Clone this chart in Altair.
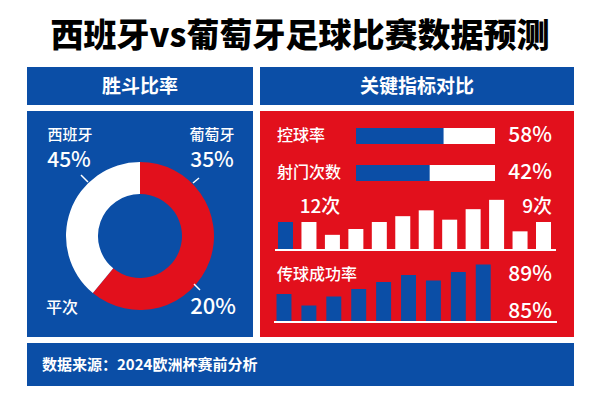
import altair as alt
import pandas as pd

FONT = "Noto Sans CJK SC"
BLUE = "#0b4ea6"
RED = "#e2101c"
WHITE = "#ffffff"

# ---- data ----
title_text = "西班牙vs葡萄牙足球比赛数据预测"
left_header = "胜斗比率"
right_header = "关键指标对比"
footer_text = "数据来源：2024欧洲杯赛前分析"

ring_parts = ["葡萄牙/平次", "西班牙"]
ring_share = [61, 39]
ring_labels = ["西班牙", "45%", "葡萄牙", "35%", "平次", "20%"]

metrics = ["控球率", "射门次数"]
metric_bar = [63, 53]
metric_label = ["58%", "42%"]

shot_idx = list(range(1, 13))
shot_vals = [12, 12, 6.5, 9, 12, 14.5, 17, 13, 17.5, 21.5, 8, 12]
shot_team = ["西班牙"] + ["其他"] * 11
shot_labels = ["12次", "9次"]

pass_idx = list(range(1, 10))
pass_vals = [28, 16.5, 25.5, 33, 40, 47, 41.5, 50, 57.5]
pass_title = "传球成功率"
pass_labels = ["89%", "85%"]

one = pd.DataFrame({"k": [0]})
LW = 500


def rect(x0, x1, y0, y1, color):
    return alt.Chart(one).mark_rect(color=color).encode(
        x=alt.value(x0), x2=alt.value(x1), y=alt.value(y0), y2=alt.value(y1))


def rule(x0, x1, y0, y1, color=WHITE, w=2):
    return alt.Chart(one).mark_rule(color=color, strokeWidth=w).encode(
        x=alt.value(x0), x2=alt.value(x1), y=alt.value(y0), y2=alt.value(y1))


def txt(s, x, y, size, align="center", weight="bold", color=WHITE):
    return alt.Chart(one).mark_text(
        text=s, align=align, baseline="middle", fontSize=size,
        fontWeight=weight, color=color, font=FONT).encode(
        x=alt.value(x), y=alt.value(y))


layers = []
# panels
layers += [
    rect(27, 253, 67, 105, BLUE),
    rect(260, 574, 67, 105, BLUE),
    rect(27, 253, 111, 337, BLUE),
    rect(260, 574, 111, 337, RED),
    rect(27, 574, 343, 386, BLUE),
]
# title & headers
layers += [
    txt(title_text, 300, 37, 33, weight=900, color="#000000"),
    txt(left_header, 140, 87, 19),
    txt(right_header, 417, 87, 19),
    txt(footer_text, 42, 365, 15, align="left"),
]

# donut
ring_df = pd.DataFrame({"part": ring_parts, "share": ring_share, "o": [0, 1]})
donut = alt.Chart(ring_df).mark_arc(radius=74, radius2=42).encode(
    theta=alt.Theta("share:Q", stack=True),
    order=alt.Order("o:Q"),
    color=alt.Color("part:N", scale=alt.Scale(domain=ring_parts, range=[RED, WHITE]), legend=None),
    x=alt.value(140), y=alt.value(236),
)
layers.append(donut)
layers += [
    rule(81, 88, 175, 182, WHITE, 1.5),
    rule(199, 193, 178, 183, WHITE, 1.5),
    rule(194, 200, 284, 290, WHITE, 1.5),
    txt(ring_labels[0], 70, 135, 15, weight=LW),
    txt(ring_labels[1], 69, 161, 21, weight=LW),
    txt(ring_labels[2], 212, 135, 15, weight=LW),
    txt(ring_labels[3], 212, 161, 21, weight=LW),
    txt(ring_labels[4], 62, 308, 16, weight=LW),
    txt(ring_labels[5], 213, 307, 22, weight=LW),
]

# metric bars
m_df = pd.DataFrame({"metric": metrics, "bar": metric_bar, "label": metric_label,
                     "track": [100] * len(metrics)})
mx = alt.Scale(domain=[0, 100], range=[356, 495])
my = alt.Scale(type="point", domain=metrics, range=[136, 173], padding=0)
layers += [
    alt.Chart(m_df).mark_bar(size=16, color=WHITE).encode(
        x=alt.X("track:Q", scale=mx, axis=None), y=alt.Y("metric:N", scale=my, axis=None)),
    alt.Chart(m_df).mark_bar(size=16, color=BLUE).encode(
        x=alt.X("bar:Q", scale=mx, axis=None), y=alt.Y("metric:N", scale=my, axis=None)),
    alt.Chart(m_df).mark_text(align="left", baseline="middle", fontSize=16, color=WHITE,
                              font=FONT, fontWeight=LW).encode(
        x=alt.value(277), y=alt.Y("metric:N", scale=my, axis=None), text="metric:N"),
    alt.Chart(m_df).mark_text(align="right", baseline="middle", fontSize=21, color=WHITE,
                              font=FONT, fontWeight=LW).encode(
        x=alt.value(552), y=alt.Y("metric:N", scale=my, axis=None), text="label:N"),
]

# shots chart
s_df = pd.DataFrame({"i": shot_idx, "v": shot_vals, "team": shot_team})
layers.append(
    alt.Chart(s_df).mark_bar().encode(
        x=alt.X("i:O", scale=alt.Scale(range=[278, 551], paddingInner=0.36, paddingOuter=0), axis=None),
        y=alt.Y("v:Q", scale=alt.Scale(domain=[0, 30], range=[250, 180]), axis=None),
        color=alt.Color("team:N", scale=alt.Scale(domain=["西班牙", "其他"], range=[BLUE, WHITE]), legend=None),
    )
)
layers += [
    rule(275, 556, 250, 250, WHITE, 2),
    txt(shot_labels[0], 320, 207, 19, weight=LW),
    txt(shot_labels[1], 552, 207, 19, align="right", weight=LW),
]

# pass chart
p_df = pd.DataFrame({"i": pass_idx, "v": pass_vals})
layers.append(
    alt.Chart(p_df).mark_bar(color=BLUE).encode(
        x=alt.X("i:O", scale=alt.Scale(range=[276.5, 490.7], paddingInner=0.4, paddingOuter=0), axis=None),
        y=alt.Y("v:Q", scale=alt.Scale(domain=[0, 60], range=[322, 262]), axis=None),
    )
)
layers += [
    rule(274, 557, 322, 322, WHITE, 2),
    txt(pass_title, 277, 275, 16, align="left", weight=LW),
    txt(pass_labels[0], 552, 275, 21, align="right", weight=LW),
    txt(pass_labels[1], 552, 312, 21, align="right", weight=LW),
]

chart = alt.layer(*layers).resolve_scale(
    x="independent", y="independent", color="independent", theta="independent"
).properties(
    width=600, height=400, autosize="none", padding=0, background="white"
).configure_view(stroke=None)

chart.save("out.html", embed_options={"renderer": "svg", "actions": False})
